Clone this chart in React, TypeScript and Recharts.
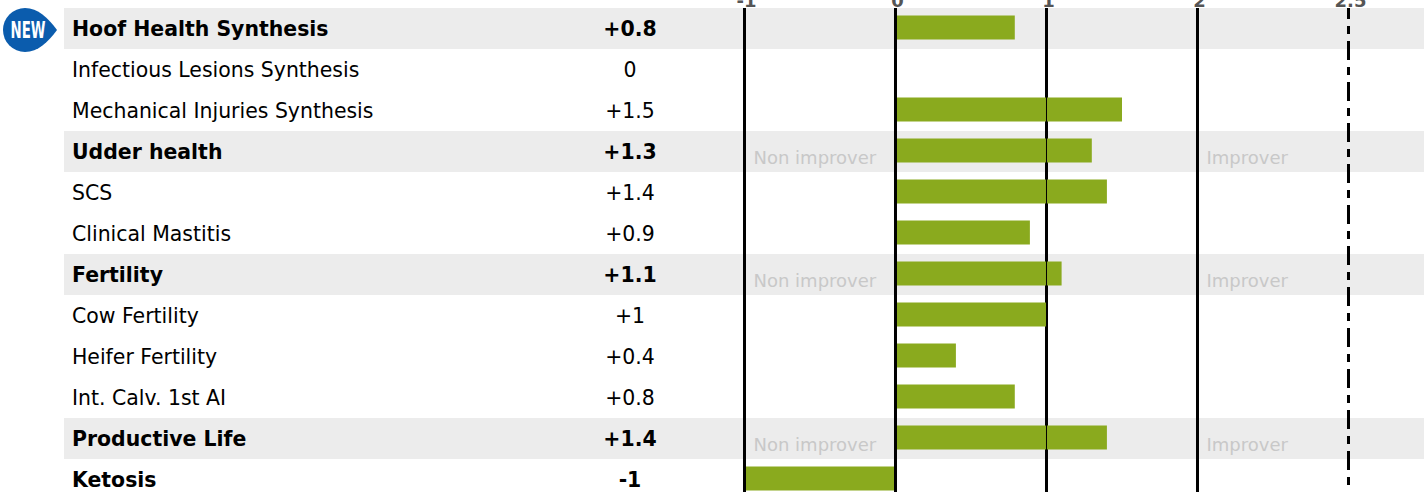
import { Bar, BarChart, Rectangle, ReferenceArea, ReferenceDot, ReferenceLine, XAxis, YAxis } from "recharts";

const names = [
  "Hoof Health Synthesis",
  "Infectious Lesions Synthesis",
  "Mechanical Injuries Synthesis",
  "Udder health",
  "SCS",
  "Clinical Mastitis",
  "Fertility",
  "Cow Fertility",
  "Heifer Fertility",
  "Int. Calv. 1st AI",
  "Productive Life",
  "Ketosis",
];
const values = [0.79, 0, 1.5, 1.3, 1.4, 0.89, 1.1, 1, 0.4, 0.79, 1.4, -1];
const valueLabels = ["+0.8", "0", "+1.5", "+1.3", "+1.4", "+0.9", "+1.1", "+1", "+0.4", "+0.8", "+1.4", "-1"];
const boldRows = ["Hoof Health Synthesis", "Udder health", "Fertility", "Productive Life", "Ketosis"];
const bandRows = ["Hoof Health Synthesis", "Udder health", "Fertility", "Productive Life"];
const zoneRows = ["Udder health", "Fertility", "Productive Life"];
// the last gridline sits one full unit after 2 but is labelled 2.5 in the original
const xTicks = [-1, 0, 1, 2, 3];
const xTickLabels = ["-1", "0", "1", "2", "2.5"];
const solidLines = [-1, 0, 2];

const rows = names.map((name, i) => ({ name, value: values[i] }));
const font = "'DejaVu Sans', sans-serif";

function RowTick({ x, y, payload }: any) {
  const bold = boldRows.includes(payload.value);
  const label = valueLabels[names.indexOf(payload.value)];
  return (
    <g fontFamily={font} fontSize={20.45} fontWeight={bold ? 700 : 400} fill="#000">
      <text x={x + 14} y={y + 7.5} textAnchor="start">{payload.value}</text>
      <text x={x + 572} y={y + 7.5} textAnchor="middle">{label}</text>
    </g>
  );
}

function ValueTick({ x, y, payload }: any) {
  return (
    <text x={x + 2} y={y + 5} textAnchor="middle" fontFamily={font} fontSize={18} fontWeight={700} fill="#555">
      {xTickLabels[xTicks.indexOf(payload.value)]}
    </text>
  );
}

function ZoneLabel({ cx, cy, text }: any) {
  return (
    <text x={cx + 9} y={cy + 12.5} fontFamily={font} fontSize={18} fill="#c8c8c8">
      {text}
    </text>
  );
}

function GreenBar(props: any) {
  return <Rectangle {...props} y={props.y - 1.5} fill="#8aaa1e" />;
}

function NewBadge() {
  return (
    <svg width={64} height={60} style={{ position: "absolute", left: 0, top: 0 }}>
      <path d="M 25 8 C 38 8 48 18 57 30 C 48 42 38 52 25 52 A 22 22 0 0 1 25 8 Z" fill="#0b5cad" />
      <text x={28} y={38} textAnchor="middle" fontFamily="'Liberation Sans Narrow', 'DejaVu Sans Condensed'" fontSize={23} fontWeight={700} fill="#fff" textLength={35} lengthAdjust="spacingAndGlyphs">
        NEW
      </text>
    </svg>
  );
}

export default function App() {
  return (
    <div style={{ position: "fixed", left: 0, top: 0, width: 1424, height: 492, overflow: "hidden", background: "#fff" }}>
      <BarChart
        width={1424}
        height={500}
        data={rows}
        layout="vertical"
        margin={{ top: 7, right: 0, bottom: 0, left: 63 }}
        barSize={24}
      >
        <XAxis
          type="number"
          orientation="top"
          domain={[-5.5066, 3.5]}
          ticks={xTicks}
          interval={0}
          height={1}
          axisLine={false}
          tickLine={false}
          tickMargin={0}
          tick={<ValueTick />}
        />
        <YAxis
          type="category"
          dataKey="name"
          width={1}
          axisLine={false}
          tickLine={false}
          tickMargin={0}
          interval={0}
          tick={<RowTick />}
        />
        {bandRows.map((n) => (
          <ReferenceArea key={n} y1={n} y2={n} fill="#ececec" fillOpacity={1} stroke="none" />
        ))}
        <ReferenceLine x={1} stroke="#000" strokeWidth={3} zIndex={200} />
        <Bar dataKey="value" shape={<GreenBar />} isAnimationActive={false} />
        {solidLines.map((v) => (
          <ReferenceLine key={v} x={v} stroke="#000" strokeWidth={3} />
        ))}
        <ReferenceLine x={1} stroke="#000" strokeWidth={1} />
        <ReferenceLine x={3} stroke="#000" strokeWidth={3} strokeDasharray="19 7 8 7" strokeDashoffset={8} />
        {zoneRows.map((n) => (
          <ReferenceDot key={`non-${n}`} x={-1} y={n} r={0} shape={<ZoneLabel text="Non improver" />} />
        ))}
        {zoneRows.map((n) => (
          <ReferenceDot key={`imp-${n}`} x={2} y={n} r={0} shape={<ZoneLabel text="Improver" />} />
        ))}
      </BarChart>
      <NewBadge />
    </div>
  );
}
